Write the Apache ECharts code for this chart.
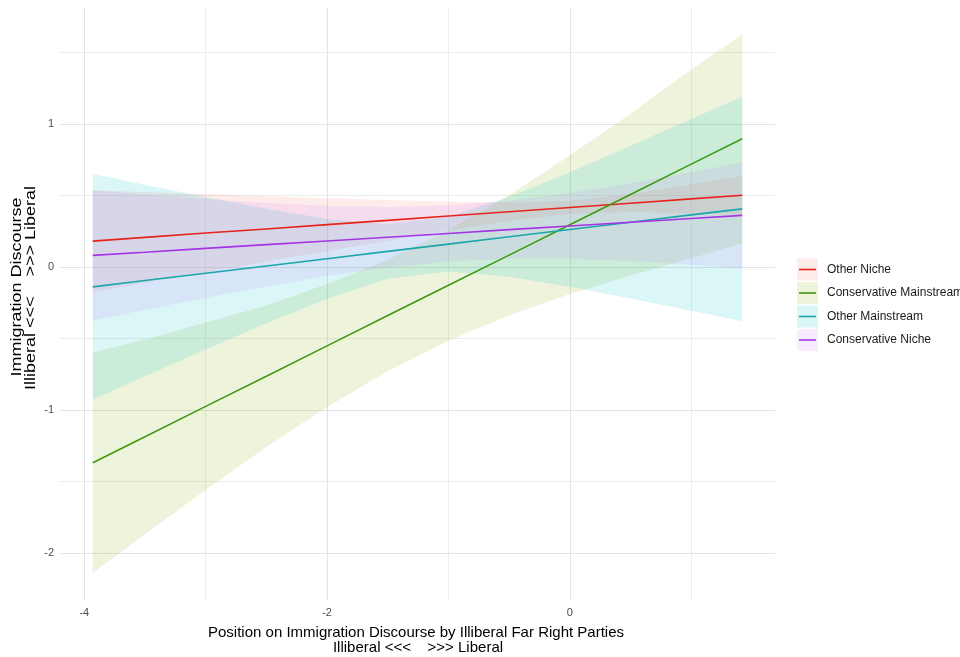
<!DOCTYPE html>
<html>
<head>
<meta charset="utf-8">
<script src="https://cdn.jsdelivr.net/npm/echarts@6/dist/echarts.min.js"></script>
<style>html,body{margin:0;padding:0;background:#fff}#c{width:960px;height:657px}</style>
</head>
<body>
<div id="c"></div>
<script>
// ---- data ----
const groups = ['Other Niche', 'Conservative Mainstream', 'Other Mainstream', 'Conservative Niche'];
const xs = [-3.93, -3.5, -3, -2.5, -2, -1.5, -1, -0.5, 0, 0.5, 1, 1.42];

const otherNicheFit = [0.18, 0.206, 0.236, 0.265, 0.295, 0.325, 0.355, 0.385, 0.415, 0.445, 0.475, 0.50];
const otherNicheLo  = [-0.176, -0.112, -0.038, 0.036, 0.11, 0.183, 0.255, 0.321, 0.37, 0.381, 0.375, 0.365];
const otherNicheHi  = [0.536, 0.524, 0.51, 0.494, 0.48, 0.467, 0.455, 0.449, 0.46, 0.509, 0.575, 0.635];

const consMainFit = [-1.37, -1.188, -0.976, -0.765, -0.553, -0.341, -0.129, 0.082, 0.294, 0.506, 0.718, 0.895];
const consMainLo  = [-2.14, -1.87, -1.56, -1.26, -0.98, -0.73, -0.515, -0.34, -0.19, -0.06, 0.06, 0.165];
const consMainHi  = [-0.60, -0.51, -0.39, -0.27, -0.12, 0.05, 0.26, 0.50, 0.78, 1.07, 1.38, 1.625];

const otherMainFit = [-0.14, -0.096, -0.045, 0.006, 0.057, 0.108, 0.159, 0.21, 0.261, 0.312, 0.363, 0.405];
const otherMainLo  = [-0.93, -0.766, -0.579, -0.394, -0.223, -0.084, -0.033, -0.07, -0.139, -0.222, -0.307, -0.38];
const otherMainHi  = [0.65, 0.574, 0.489, 0.406, 0.337, 0.30, 0.351, 0.49, 0.661, 0.846, 1.033, 1.19];

const consNicheFit = [0.08, 0.102, 0.129, 0.155, 0.181, 0.207, 0.233, 0.26, 0.286, 0.312, 0.338, 0.36];
const consNicheLo  = [-0.375, -0.301, -0.216, -0.137, -0.065, -0.004, 0.038, 0.058, 0.056, 0.04, 0.015, -0.01];
const consNicheHi  = [0.535, 0.505, 0.474, 0.447, 0.427, 0.418, 0.428, 0.462, 0.516, 0.584, 0.661, 0.73];

const xTickLabels = [-4, -2, 0];
const xMinorGrid = [-3, -1, 1];
const yTickLabels = [-2, -1, 0, 1];
const yMinorGrid = [-1.5, -0.5, 0.5, 1.5];

// ---- styling ----
const lineColors = ['#e8231b', '#3f9a12', '#1aa6aa', '#a633e6'];
const fillColors = ['#F8766D', '#7CAE00', '#00BFC4', '#C77CFF'];
const fillOpacity = 0.14;
const FONT = '"Liberation Sans", Arial, sans-serif';

const fits = [otherNicheFit, consMainFit, otherMainFit, consNicheFit];
const los = [otherNicheLo, consMainLo, otherMainLo, consNicheLo];
const his = [otherNicheHi, consMainHi, otherMainHi, consNicheHi];

const chart = echarts.init(document.getElementById('c'), null, {renderer: 'canvas'});

const series = [];
// gridlines
const gridMark = [];
xTickLabels.forEach(v => gridMark.push({xAxis: v, lineStyle: {color: '#e3e3e3', width: 1.1}}));
xMinorGrid.forEach(v => gridMark.push({xAxis: v, lineStyle: {color: '#ececec', width: 1}}));
yTickLabels.forEach(v => gridMark.push({yAxis: v, lineStyle: {color: '#e3e3e3', width: 1.1}}));
yMinorGrid.forEach(v => gridMark.push({yAxis: v, lineStyle: {color: '#ececec', width: 1}}));
series.push({
  type: 'line', z: 0, silent: true, showSymbol: false,
  data: [[-4, 0]], lineStyle: {opacity: 0},
  markLine: {silent: true, z: 0, zlevel: 0, symbol: ['none', 'none'], label: {show: false}, animation: false,
    lineStyle: {type: 'solid'}, data: gridMark}
});

// bands
groups.forEach((g, k) => {
  const lo = los[k], hi = his[k];
  series.push({
    type: 'custom', z: 2, silent: true,
    data: xs.map((x, i) => [x, lo[i], hi[i]]),
    encode: {x: 0, y: [1, 2]},
    renderItem: function (params, api) {
      if (params.dataIndex !== 0) return null;
      const pts = [];
      for (let i = 0; i < xs.length; i++) pts.push(api.coord([xs[i], hi[i]]));
      for (let i = xs.length - 1; i >= 0; i--) pts.push(api.coord([xs[i], lo[i]]));
      return {type: 'polygon', shape: {points: pts}, style: {fill: fillColors[k], opacity: fillOpacity}};
    }
  });
});

// fitted lines
groups.forEach((g, k) => {
  series.push({
    name: g, type: 'line', z: 3, showSymbol: false, symbol: 'none',
    data: xs.map((x, i) => [x, fits[k][i]]),
    lineStyle: {color: lineColors[k], width: 1.6}
  });
});

// legend (drawn as graphic)
const legendGraphics = [];
const legendY = [269.5, 293, 316.5, 340];
groups.forEach((g, k) => {
  const cy = legendY[k];
  legendGraphics.push({type: 'rect', shape: {x: 797, y: cy - 11, width: 21, height: 22},
    style: {fill: fillColors[k], opacity: fillOpacity}});
  legendGraphics.push({type: 'line', shape: {x1: 799, y1: cy, x2: 816, y2: cy},
    style: {stroke: lineColors[k], lineWidth: 1.6}});
  legendGraphics.push({type: 'text', x: 827, y: cy,
    style: {text: g, fontSize: 12, fontFamily: FONT, fill: '#1a1a1a', verticalAlign: 'middle', align: 'left'}});
});
// axis titles
legendGraphics.push({type: 'text', x: 416, y: 633,
  style: {text: 'Position on Immigration Discourse by Illiberal Far Right Parties', fontSize: 15, fontFamily: FONT,
    fill: '#000', align: 'center', verticalAlign: 'middle'}});
legendGraphics.push({type: 'text', x: 418, y: 648,
  style: {text: 'Illiberal <<<    >>> Liberal', fontSize: 15, fontFamily: FONT,
    fill: '#000', align: 'center', verticalAlign: 'middle'}});
legendGraphics.push({type: 'text', x: 17, y: 287, rotation: Math.PI / 2, scaleX: 1.2,
  style: {text: 'Immigration Discourse', fontSize: 15, fontFamily: FONT,
    fill: '#000', align: 'center', verticalAlign: 'middle'}});
legendGraphics.push({type: 'text', x: 31, y: 288, rotation: Math.PI / 2, scaleX: 1.2,
  style: {text: 'Illiberal <<<    >>> Liberal', fontSize: 15, fontFamily: FONT,
    fill: '#000', align: 'center', verticalAlign: 'middle'}});

chart.setOption({
  animation: false,
  backgroundColor: '#ffffff',
  grid: {left: 60, right: 185, top: 8, bottom: 57, containLabel: false},
  xAxis: {
    type: 'value', min: -4.2, max: 1.69,
    axisLine: {show: false}, axisTick: {show: false}, splitLine: {show: false},
    axisLabel: {customValues: xTickLabels, color: '#4d4d4d', fontSize: 11, fontFamily: FONT, margin: 7}
  },
  yAxis: {
    type: 'value', min: -2.33, max: 1.81,
    axisLine: {show: false}, axisTick: {show: false}, splitLine: {show: false},
    axisLabel: {customValues: yTickLabels, color: '#4d4d4d', fontSize: 11, fontFamily: FONT, margin: 6}
  },
  graphic: legendGraphics,
  series: series
});
</script>
</body>
</html>
